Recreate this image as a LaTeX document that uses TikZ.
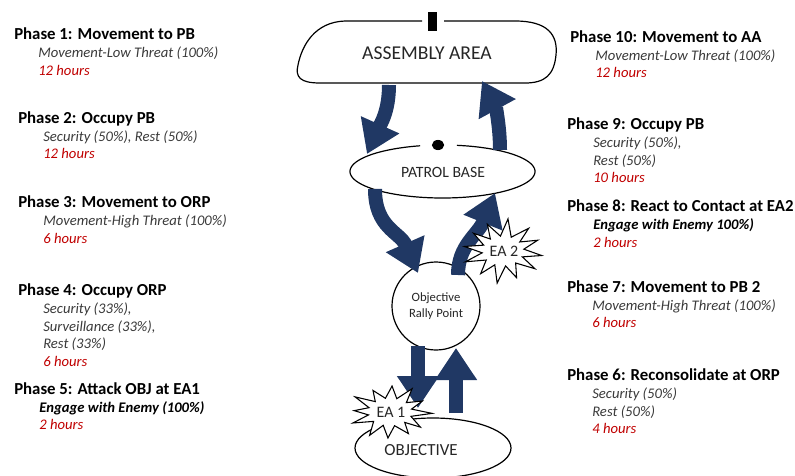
\documentclass[tikz,border=0pt]{standalone}
\usepackage{fontspec}
\setmainfont{Carlito}
\usetikzlibrary{arrows.meta,shapes.geometric}
\definecolor{navy}{HTML}{203864}
\definecolor{hred}{HTML}{C00000}
\definecolor{dgray}{HTML}{3A3A3A}
\tikzset{
  ttl/.style={anchor=base west,inner sep=0pt,font=\bfseries\fontsize{12.6}{14}\selectfont},
  sub/.style={anchor=base west,inner sep=0pt,text=dgray,font=\itshape\fontsize{11}{13}\selectfont},
  subb/.style={anchor=base west,inner sep=0pt,font=\bfseries\itshape\fontsize{11}{13}\selectfont},
  hrs/.style={anchor=base west,inner sep=0pt,text=hred,font=\itshape\fontsize{11}{13}\selectfont},
  outline/.style={draw=black,line width=0.9pt},
  bigarr/.style={draw=navy,line width=10.5pt,-{Triangle[width=30pt,length=24pt]}},
  burstline/.style={draw=black,line width=0.8pt,fill=white,line join=miter},
  bursttext/.style={inner sep=0pt,text=black!85,font=\fontsize{12}{14}\selectfont}
}
\begin{document}
\begin{tikzpicture}[x=0.75pt,y=-0.75pt]
\useasboundingbox (0,0) rectangle (795,475);
\clip (0,0) rectangle (795,475);
% ---------- left texts
\node[ttl] (p1t) at (14,39) {Phase 1: Movement to PB};
\node[sub] (p1s) at (38,57) {Movement-Low Threat (100\%)};
\node[hrs] (p1h) at (38,75) {12 hours};
\node[ttl] (p2t) at (18,123) {Phase 2: Occupy PB};
\node[sub] (p2s) at (43,141) {Security (50\%), Rest (50\%)};
\node[hrs] (p2h) at (43,158) {12 hours};
\node[ttl] (p3t) at (18,207) {Phase 3: Movement to ORP};
\node[sub] (p3s) at (43,225) {Movement-High Threat (100\%)};
\node[hrs] (p3h) at (43,243) {6 hours};
\node[ttl] (p4t) at (18,295) {Phase 4: Occupy ORP};
\node[sub] (p4s) at (43,313) {Security (33\%),};
\node[sub] (p4s2) at (43,331) {Surveillance (33\%),};
\node[sub] (p4s3) at (43,348) {Rest (33\%)};
\node[hrs] (p4h) at (43,366) {6 hours};
\node[ttl] (p5t) at (14,394) {Phase 5: Attack OBJ at EA1};
\node[subb] (p5s) at (39,412) {Engage with Enemy (100\%)};
\node[hrs] (p5h) at (39,429) {2 hours};
% ---------- right texts
\node[ttl] (p10t) at (570,42) {Phase 10: Movement to AA};
\node[sub] (p10s) at (595,60) {Movement-Low Threat (100\%)};
\node[hrs] (p10h) at (595,77) {12 hours};
\node[ttl] (p9t) at (567,129) {Phase 9: Occupy PB};
\node[sub] (p9s) at (593,147) {Security (50\%),};
\node[sub] (p9s2) at (593,165) {Rest (50\%)};
\node[hrs] (p9h) at (593,182) {10 hours};
\node[ttl] (p8t) at (567,211) {Phase 8: React to Contact at EA2};
\node[subb] (p8s) at (593,229) {Engage with Enemy 100\%)};
\node[hrs] (p8h) at (593,247) {2 hours};
\node[ttl] (p7t) at (567,292) {Phase 7: Movement to PB 2};
\node[sub] (p7s) at (592,310) {Movement-High Threat (100\%)};
\node[hrs] (p7h) at (592,327) {6 hours};
\node[ttl] (p6t) at (567,380) {Phase 6: Reconsolidate at ORP};
\node[sub] (p6s) at (592,398) {Security (50\%)};
\node[sub] (p6s2) at (592,416) {Rest (50\%)};
\node[hrs] (p6h) at (592,433) {4 hours};
% ---------- assembly area
\draw[outline] (444,21) -- (515,21) .. controls (548,21) and (558,35) .. (556,55)
  .. controls (554,75) and (545,83) .. (525,83) -- (320,83)
  .. controls (300,83) and (295,77) .. (298,65)
  .. controls (302,45) and (315,22) .. (345,21) -- (422,21);
\fill (428,12) rectangle (437,31);
\node[text=black!85,font=\fontsize{14.7}{16}\selectfont] (aa) at (427,53) {ASSEMBLY AREA};
% ---------- patrol base
\draw[outline] plot[domain=279:616,samples=160,variable=\t] ({442.5+92.5*cos(\t)},{171.5+26.5*sin(\t)});
\fill (438,145) ellipse [x radius=4.6pt,y radius=3.8pt];
\node[text=black!85,font=\fontsize{11.8}{13}\selectfont] (pb) at (443,172) {PATROL BASE};
% ---------- ORP
\node[circle,outline,minimum size=66pt,inner sep=0pt,align=center,text=black!85,font=\fontsize{9.5}{12}\selectfont] (orp) at (436,306) {Objective\\Rally Point};
% ---------- objective
\node[ellipse,outline,minimum width=117pt,minimum height=45pt] (obj) at (433,448) {};
\node[text=black!85,font=\fontsize{12.7}{14}\selectfont] (objl) at (421,450) {OBJECTIVE};
% ---------- arrows
\coordinate (a1s) at (389,85);  \coordinate (a1e) at (367,154);
\coordinate (a2s) at (500,150); \coordinate (a2e) at (482,81);
\coordinate (a3s) at (375,189); \coordinate (a3e) at (418,273);
\coordinate (a4s) at (458,275); \coordinate (a4e) at (495,193);
\coordinate (a5s) at (418,346); \coordinate (a5e) at (418,408);
\coordinate (a6s) at (456,413); \coordinate (a6e) at (456,348);
\draw[bigarr] (a1s) .. controls (389,112) and (380,125) .. (a1e);
\draw[bigarr] (a2s) .. controls (500,125) and (495,105) .. (a2e);
\draw[bigarr] (a3s) .. controls (375,228) and (400,232) .. (a3e);
\draw[bigarr] (a4s) .. controls (458,245) and (478,235) .. (a4e);
\draw[bigarr] (a5s) -- (a5e);
\draw[bigarr] (a6s) -- (a6e);
% ---------- bursts
\draw[burstline] plot[samples at={0,15,...,345},variable=\a]
  ({503+(mod(\a,30)<1 ? 39*(1+0.08*sin(5*\a)) : 21)*cos(\a+8)},
   {251+(mod(\a,30)<1 ? 30*(1+0.08*cos(4*\a)) : 15)*sin(\a+8)}) -- cycle;
\node[bursttext] (ea2) at (504,251) {EA 2};
\draw[burstline] plot[samples at={0,15,...,345},variable=\a]
  ({390+(mod(\a,30)<1 ? 39*(1+0.08*cos(5*\a)) : 22)*cos(\a+3)},
   {412+(mod(\a,30)<1 ? 26*(1+0.08*sin(4*\a)) : 14)*sin(\a+3)}) -- cycle;
\node[bursttext] (ea1) at (391,412) {EA 1};
\end{tikzpicture}
\end{document}
